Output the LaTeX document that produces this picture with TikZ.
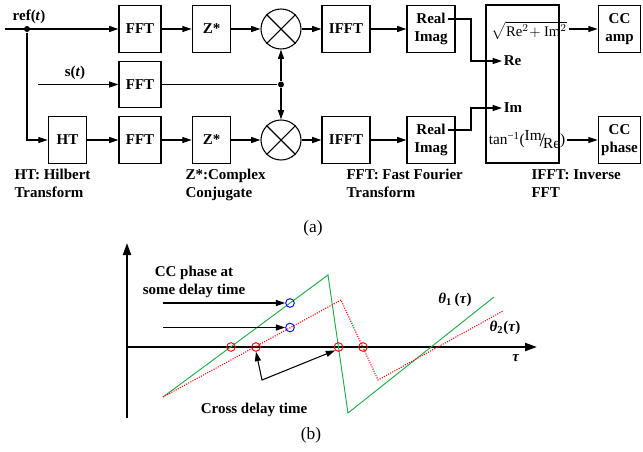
\documentclass[tikz,border=0pt]{standalone}
\usepackage{amsmath,amssymb}
\usepackage{fontspec}
\setmainfont{Liberation Serif}
\usepackage{tikz}
\usetikzlibrary{arrows.meta, positioning, calc}
\usepackage{xcolor}
\definecolor{phasegreen}{RGB}{30,170,70}
\definecolor{phasered}{RGB}{255,0,0}
\definecolor{markblue}{RGB}{0,0,255}

\begin{document}
\begin{tikzpicture}[x=0.75pt, y=-0.75pt, line width=0.8pt,
    font=\fontsize{11.25}{13.5}\selectfont\bfseries,
    >={Triangle[length=7pt,width=4.5pt]},
    blk/.style={draw, minimum width=31.5pt, minimum height=35pt, inner sep=1pt, align=center},
    mult/.style={draw, circle, minimum size=30pt, inner sep=0pt},
    note/.style={anchor=north west, align=left, inner sep=0pt},
    junc/.style={circle, fill, inner sep=0pt, minimum size=4.5pt},
    ring/.style={draw, circle, minimum size=6.5pt, inner sep=0pt, line width=0.7pt}]
  \useasboundingbox (0,0) rectangle (643,451);

  % (a) block diagram
  \node[blk] (fft1) at (140,29) {FFT};
  \node[blk, minimum width=29pt] (zc1) at (211.5,29) {Z*};
  \node[mult] (mul1) at (281,29) {};
  \node[blk, minimum width=36pt] (ifft1) at (346,29) {IFFT};
  \node[blk, minimum width=36pt] (ri1) at (431,29) {Real\\Imag};
  \node[blk] (fft2) at (140,84.5) {FFT};
  \node[blk, minimum width=29pt] (ht) at (67.5,140) {HT};
  \node[blk] (fft3) at (140,140) {FFT};
  \node[blk, minimum width=29pt] (zc2) at (211.5,140) {Z*};
  \node[mult] (mul2) at (281,140) {};
  \node[blk, minimum width=36pt] (ifft2) at (346,140) {IFFT};
  \node[blk, minimum width=36pt] (ri2) at (431,140) {Real\\Imag};
  \node[draw, minimum width=54.75pt, minimum height=118.5pt] (calc) at (522.5,84) {};
  \node[blk, minimum width=32pt] (amp) at (619.5,29) {CC\\amp};
  \node[blk, minimum width=32pt] (phase) at (619.5,140) {CC\\phase};
  \foreach \m in {mul1,mul2}{
    \draw (\m.north west) -- (\m.south east);
    \draw (\m.north east) -- (\m.south west);
  }

  \coordinate (refin) at (5,29);
  \node[junc] (refdot) at (27,29) {};
  \coordinate (sin) at (38,84.5);
  \node[junc] (sdot) at (281,84.5) {};
  \node at (29,17) {ref(\textit{t})};
  \node at (75,73) {s(\textit{t})};

  \draw[->] (refin) -- (fft1);
  \draw[->] (refdot) |- (ht);
  \draw[->] (sin) -- (fft2);
  \draw (fft2) -- (sdot);
  \draw[->] (sdot) -- (mul1);
  \draw[->] (sdot) -- (mul2);
  \foreach \a/\b in {fft1/zc1, zc1/mul1, mul1/ifft1, ifft1/ri1,
      ht/fft3, fft3/zc2, zc2/mul2, mul2/ifft2, ifft2/ri2}{
    \draw[->] (\a) -- (\b);
  }

  % inside the amplitude/phase box
  \node[font=\fontsize{11}{13}\selectfont, inner sep=1pt] (ampf) at (529,30)
    {$\sqrt{\text{Re}^2\!+\text{Im}^2}$};
  \node[font=\fontsize{11.5}{13.5}\selectfont, inner sep=1pt] (phf) at (527,140)
    {tan\textsuperscript{−1}(\raisebox{3pt}{Im}\kern-1.5pt\raisebox{-1pt}{\Large/}\kern-1.5pt\raisebox{-3pt}{Re})};
  \node[anchor=west, inner sep=1pt] (reL) at (502,61) {Re};
  \node[anchor=west, inner sep=1pt] (imL) at (502,108) {Im};
  \draw[->] ([xshift=-6pt,yshift=7.5pt]ri1.east) -| (471,45) |- (reL.west);
  \draw[->] ([xshift=-6pt,yshift=7.5pt]ri2.east) -| (471,120) |- (imL.west);
  \draw[->] (ampf.east |- amp.west) -- (amp.west);
  \draw[->] (phf.east |- phase.west) -- (phase.west);

  \node[note] at (14,169) {HT: Hilbert\\Transform};
  \node[note] at (185,169) {Z*:Complex\\Conjugate};
  \node[note] at (346,169) {FFT: Fast Fourier\\Transform};
  \node[note] at (531,169) {IFFT: Inverse\\FFT};
  \node[font=\fontsize{13}{15}\selectfont] at (313,228) {(a)};

  % (b) phase curves
  \coordinate (orig) at (127,347);
  \draw[line width=1.6pt, ->, >={Triangle[length=9pt,width=6pt]}] (127,418) -- (127,243);
  \draw[line width=1.6pt, ->, >={Triangle[length=9pt,width=6pt]}] (orig) -- (537,347);
  \node at (516,358) {\textit{τ}};

  \draw[phasegreen, line width=0.7pt] (163,397) -- (328,275) -- (348,413) -- (494,297);
  \draw[phasered, line width=0.8pt, densely dotted] (163,397) -- (341,300) -- (378,380) -- (503,311);
  \node at (455,300) {\textit{θ}\textsubscript{1}\,(\textit{τ})};
  \node at (505,328) {\textit{θ}\textsubscript{2}(\textit{τ})};

  \foreach \n/\x in {z1/231, z2/256, z3/338.5, z4/363}{
    \node[ring, draw=phasered] (\n) at (\x,347) {};
  }
  \node[ring, draw=markblue] (b1) at (290,303) {};
  \node[ring, draw=markblue] (b2) at (290,327.5) {};
  \coordinate (a1) at (163,303);
  \coordinate (a2) at (163,327.5);
  \draw[->] (a1) -- (b1);
  \draw[->] (a2) -- (b2);
  \node[align=center] at (194,282) {CC phase at\\some delay time};

  \coordinate (cross) at (262,380);
  \draw[<->] (z2.south) -- (cross) -- (z3.south west);
  \node at (254,410) {Cross delay time};
  \node[font=\fontsize{13}{15}\selectfont] at (311,435) {(b)};
\end{tikzpicture}
\end{document}
